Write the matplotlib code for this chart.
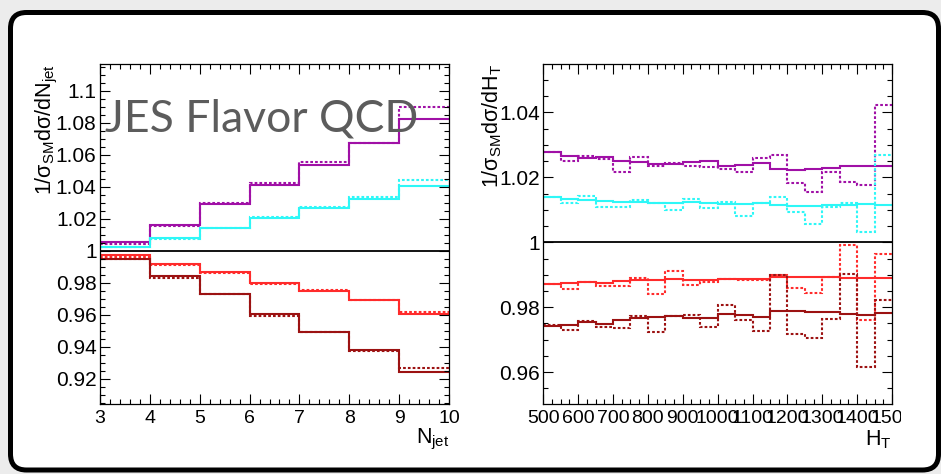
import numpy as np
import matplotlib
matplotlib.use("Agg")
import matplotlib.pyplot as plt
import matplotlib.transforms as mtransforms
from matplotlib.patches import FancyBboxPatch
from matplotlib.ticker import MultipleLocator, FuncFormatter

# ---------------- data ----------------
njet_edges = np.arange(3, 11)
njet_up_nominal = [1.0057, 1.0161, 1.0293, 1.0411, 1.0539, 1.0671, 1.0824]
njet_up_alt = [1.0040, 1.0155, 1.0296, 1.0422, 1.0555, 1.0676, 1.0902]
njet_up_half_nominal = [1.0022, 1.0077, 1.0140, 1.0202, 1.0266, 1.0325, 1.0405]
njet_up_half_alt = [1.0024, 1.0074, 1.0144, 1.0211, 1.0274, 1.0334, 1.0440]
njet_down_half_nominal = [0.9973, 0.9917, 0.9864, 0.9800, 0.9749, 0.9689, 0.9606]
njet_down_half_alt = [0.9960, 0.9913, 0.9859, 0.9792, 0.9753, 0.9694, 0.9614]
njet_down_nominal = [0.9947, 0.9839, 0.9727, 0.9603, 0.9490, 0.9378, 0.9243]
njet_down_alt = [0.9950, 0.9832, 0.9727, 0.9590, 0.9490, 0.9371, 0.9264]

ht_edges = np.arange(500, 1501, 50)
ht_up_nominal = [1.0277, 1.0266, 1.0259, 1.0263, 1.0250, 1.0247, 1.0240, 1.0240,
                 1.0246, 1.0250, 1.0235, 1.0238, 1.0243, 1.0226, 1.0222, 1.0226,
                 1.0230, 1.0234, 1.0236, 1.0234]
ht_up_alt = [1.0278, 1.0250, 1.0267, 1.0255, 1.0216, 1.0263, 1.0236, 1.0244,
             1.0235, 1.0233, 1.0226, 1.0217, 1.0258, 1.0268, 1.0182, 1.0156,
             1.0215, 1.0187, 1.0176, 1.0422]
ht_up_half_nominal = [1.0138, 1.0132, 1.0129, 1.0127, 1.0125, 1.0124, 1.0120, 1.0120,
                      1.0125, 1.0122, 1.0119, 1.0118, 1.0122, 1.0114, 1.0111, 1.0112,
                      1.0114, 1.0116, 1.0117, 1.0116]
ht_up_half_alt = [1.0140, 1.0122, 1.0142, 1.0110, 1.0110, 1.0129, 1.0121, 1.0099,
                  1.0132, 1.0105, 1.0125, 1.0081, 1.0120, 1.0138, 1.0092, 1.0055,
                  1.0110, 1.0122, 1.0032, 1.0269]
ht_down_half_nominal = [0.98723, 0.98742, 0.98769, 0.98748, 0.98809, 0.98849, 0.98849,
                        0.98877, 0.98840, 0.98840, 0.98871, 0.98871, 0.98865, 0.98932,
                        0.98932, 0.98932, 0.98932, 0.98902, 0.98886, 0.98908]
ht_down_half_alt = [0.98717, 0.98572, 0.98778, 0.98655, 0.98655, 0.98911, 0.98409,
                    0.99108, 0.98695, 0.98769, 0.98855, 0.98831, 0.98849, 0.98985,
                    0.98585, 0.98431, 0.98917, 0.99917, 0.97609, 0.99640]
ht_down_nominal = [0.97415, 0.97455, 0.97557, 0.97492, 0.97600, 0.97662, 0.97686,
                   0.97723, 0.97662, 0.97662, 0.97794, 0.97754, 0.97695, 0.97877,
                   0.97892, 0.97865, 0.97840, 0.97794, 0.97754, 0.97815]
ht_down_alt = [0.97440, 0.97302, 0.97569, 0.97403, 0.97357, 0.97732, 0.97249,
               0.97732, 0.97763, 0.97394, 0.98055, 0.97609, 0.97262, 0.98985,
               0.97172, 0.97065, 0.97649, 0.99034, 0.96172, 0.98225]

# ---------------- style ----------------
W, H = 941, 474
plt.rcParams["font.family"] = ["Liberation Sans", "DejaVu Sans"]
plt.rcParams["mathtext.fontset"] = "custom"
plt.rcParams["mathtext.rm"] = "Liberation Sans"
plt.rcParams["mathtext.it"] = "Liberation Sans"
plt.rcParams["mathtext.sf"] = "Liberation Sans"

C_MAG = "#a010a6"
C_CYAN = "#2ef7f7"
C_RED = "#ff2b2b"
C_DRED = "#9c1212"
DOT = (0, (1.3, 1.0))
LW = 1.5


def fpos(x, y):
    """pixel position (from top-left) -> figure fraction"""
    return x / W, 1 - y / H


fig = plt.figure(figsize=(W / 100, H / 100), dpi=100, facecolor="#ececec")

# rounded slide frame
frame = FancyBboxPatch((10.5, 4.0), 928.0, 457.5,
                       boxstyle="round,pad=0,rounding_size=16",
                       transform=mtransforms.IdentityTransform(),
                       facecolor="white", edgecolor="black", linewidth=3.6,
                       zorder=-5)
fig.patches.append(frame)

axL = fig.add_axes([100 / W, 1 - 404 / H, 349 / W, 340 / H])
axR = fig.add_axes([543.3 / W, 1 - 404 / H, 348.7 / W, 340 / H])

fmt = FuncFormatter(lambda v, p: f"{round(v, 4):g}")


def style_axis(ax):
    for s in ax.spines.values():
        s.set_linewidth(0.9)
        s.set_color("black")
    ax.tick_params(which="both", direction="in", top=True, right=True,
                   width=0.8, colors="black")
    ax.tick_params(which="major", length=7.2)
    ax.tick_params(which="minor", length=3.6)
    ax.tick_params(axis="x", pad=4, labelsize=14)
    ax.tick_params(axis="y", pad=2.5, labelsize=15)
    ax.yaxis.set_major_formatter(fmt)
    ax.xaxis.set_major_formatter(fmt)


def draw_set(ax, edges, series):
    for vals, color, ls in series:
        ax.stairs(vals, edges, baseline=None, color=color, lw=LW, linestyle=ls)
    ax.axhline(1.0, color="black", lw=1.3, zorder=5)


# left panel: N_jet
draw_set(axL, njet_edges, [
    (njet_up_nominal, C_MAG, "-"), (njet_up_alt, C_MAG, DOT),
    (njet_up_half_nominal, C_CYAN, "-"), (njet_up_half_alt, C_CYAN, DOT),
    (njet_down_half_nominal, C_RED, "-"), (njet_down_half_alt, C_RED, DOT),
    (njet_down_nominal, C_DRED, "-"), (njet_down_alt, C_DRED, DOT),
])
axL.set_xlim(3, 10)
axL.set_ylim(0.9041, 1.1168)
axL.xaxis.set_major_locator(MultipleLocator(1))
axL.xaxis.set_minor_locator(MultipleLocator(0.2))
axL.yaxis.set_major_locator(MultipleLocator(0.02))
axL.yaxis.set_minor_locator(MultipleLocator(0.005))
style_axis(axL)

# right panel: H_T
draw_set(axR, ht_edges, [
    (ht_up_nominal, C_MAG, "-"), (ht_up_alt, C_MAG, DOT),
    (ht_up_half_nominal, C_CYAN, "-"), (ht_up_half_alt, C_CYAN, DOT),
    (ht_down_half_nominal, C_RED, "-"), (ht_down_half_alt, C_RED, DOT),
    (ht_down_nominal, C_DRED, "-"), (ht_down_alt, C_DRED, DOT),
])
axR.set_xlim(500, 1500)
axR.set_ylim(0.9502, 1.0549)
axR.xaxis.set_major_locator(MultipleLocator(100))
axR.xaxis.set_minor_locator(MultipleLocator(25))
axR.yaxis.set_major_locator(MultipleLocator(0.02))
axR.yaxis.set_minor_locator(MultipleLocator(0.005))
style_axis(axR)

# the pad ends just right of the frame: last label gets cut there
fig.canvas.draw()
pad_clip = mtransforms.Bbox.from_extents(0, 0, 901, H)
for lab in axR.get_xticklabels():
    lab.set_clip_box(pad_clip)
    lab.set_clip_on(True)

# axis titles
fig.text(*fpos(47, 64), r"$1/\sigma_{SM}d\sigma/dN_{jet}$", rotation=90,
         ha="center", va="top", fontsize=15.5)
fig.text(*fpos(492.5, 64), r"$1/\sigma_{SM}d\sigma/dH_{T}$", rotation=90,
         ha="center", va="top", fontsize=15.5)
fig.text(*fpos(449, 443), r"$N_{jet}$", ha="right", va="baseline", fontsize=15.5)
fig.text(*fpos(891, 445), r"$H_{T}$", ha="right", va="baseline", fontsize=15.5)

# slide heading
title = fig.text(*fpos(105, 131.5), "JES Flavor QCD", family=["Lato", "DejaVu Sans"],
                 fontsize=34, color="#5c5c5c", ha="left", va="baseline", zorder=10)
renderer = fig.canvas.get_renderer()
bb = title.get_window_extent(renderer)
title.set_fontsize(34 * 313.0 / bb.width)

fig.savefig("out.png", dpi=100, facecolor=fig.get_facecolor())
